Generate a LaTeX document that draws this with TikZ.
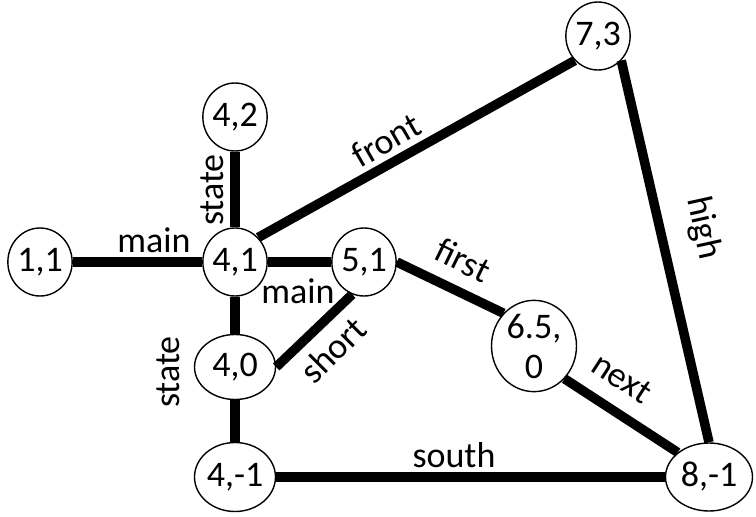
\documentclass[tikz,border=0pt]{standalone}
\usepackage{fontspec}
\setmainfont{Carlito}
\usetikzlibrary{shapes.geometric}
\begin{document}
\begin{tikzpicture}[x=1pt,y=-1pt,
  vertex/.style={draw, ellipse, line width=1.4pt, inner sep=0pt, fill=white,
    font=\fontsize{36}{40}\selectfont, align=center},
  link/.style={line width=9.5pt},
  tag/.style={font=\fontsize{36}{40}\selectfont, inner sep=0pt}]
\useasboundingbox (0,0) rectangle (756,517);

% vertices
\node[vertex, minimum width=62pt, minimum height=68pt] (n11)  at (40,262)  {1,1};
\node[vertex, minimum width=62pt, minimum height=68pt] (n42)  at (235,117) {4,2};
\node[vertex, minimum width=62pt, minimum height=68pt] (n41)  at (235,262) {4,1};
\node[vertex, minimum width=62pt, minimum height=68pt] (n51)  at (364,262) {5,1};
\node[vertex, minimum width=61pt, minimum height=68pt] (n73)  at (598,36)  {7,3};
\node[vertex, minimum width=81pt, minimum height=65pt] (n40)  at (235,367) {4,0};
\node[vertex, minimum width=81pt, minimum height=69pt] (n4m1) at (235,477) {4,-1};
\node[vertex, minimum width=85pt, minimum height=82pt] (n650) at (534,346) {6.5,\\0};
\node[vertex, minimum width=87pt, minimum height=68pt] (n8m1) at (709,477) {8,-1};

% connections
\draw[link] (n11) -- (n41);
\draw[link] (n42) -- (n41);
\draw[link] (n41) -- (n51);
\draw[link] (n41) -- (n40);
\draw[link] (n40) -- (n4m1);
\draw[link] (n41.north east) -- (n73.south west);
\draw[link] (n73.south east) -- (n8m1.north);
\draw[link] (n51.east) -- (n650.north west);
\draw[link] (n650.south east) -- (n8m1.north west);
\draw[link] (n40.east) -- (n51.-110);
\draw[link] (n4m1) -- (n8m1);

% edge labels
\node[tag, anchor=base] (lmain1) at (154,252) {main};
\node[tag, anchor=base] (lmain2) at (298,303) {main};
\node[tag, anchor=base] (lsouth) at (454,467) {south};
\node[tag, rotate=90] (lstate1) at (212,190) {state};
\node[tag, rotate=90] (lstate2) at (168,372) {state};
\node[tag, rotate=30] (lfront) at (386,140) {front};
\node[tag, rotate=-26] (lfirst) at (463,260) {first};
\node[tag, rotate=45] (lshort) at (333,350) {short};
\node[tag, rotate=-33] (lnext) at (622,378) {next};
\node[tag, rotate=-77.6] (lhigh) at (703,228) {high};
\end{tikzpicture}
\end{document}
